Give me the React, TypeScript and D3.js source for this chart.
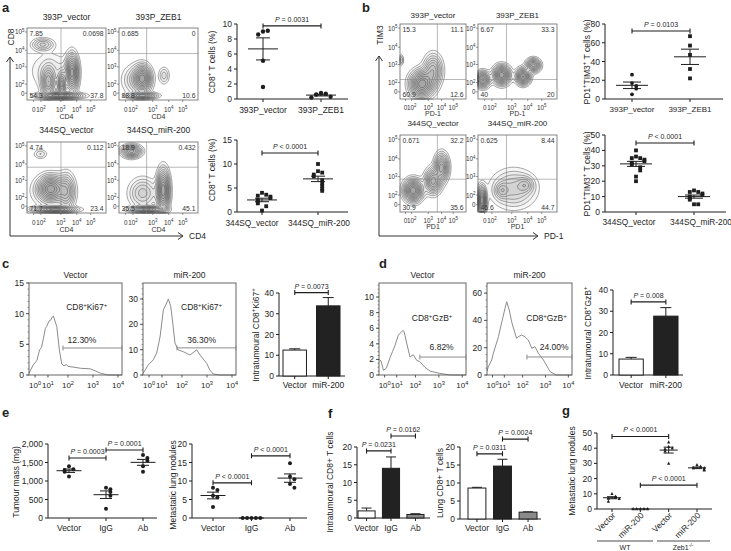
import React, { useMemo } from 'react';
import * as d3 from 'd3';

const FONT = '"Liberation Sans", Arial, Helvetica, sans-serif';
const INK = '#1e1e1e';

// ---------- panel a : CD8+ T cells (%) ----------
const aTopCats = ['393P_vector', '393P_ZEB1'];
const aTopVector = [9.0, 9.1, 8.6, 5.1, 1.6];
const aTopZeb1 = [0.8, 0.7, 0.6, 0.3, 0.2];
const aBotCats = ['344SQ_vector', '344SQ_miR-200'];
const aBotVector = [4.0, 3.6, 3.4, 3.2, 2.9, 2.5, 2.2, 1.8, 1.2, 0.3];
const aBotMir = [10.0, 8.5, 8.2, 7.8, 7.4, 6.6, 5.9, 5.4, 4.8, 4.4];

// ---------- panel b : PD1+TIM3+ T cells (%) ----------
const bTopCats = ['393P_vector', '393P_ZEB1'];
const bTopVector = [26, 17, 14, 11, 5];
const bTopZeb1 = [67, 57, 47, 32, 22];
const bBotCats = ['344SQ_vector', '344SQ_miR-200'];
const bBotVector = [40, 36, 35, 35, 34, 33, 32, 31, 29, 27, 23, 20];
const bBotMir = [14, 13, 13, 12, 11, 10, 9, 8, 5, 5];

// flow quadrant percentages [top-left, top-right, bottom-left, bottom-right]
const aTitles = ['393P_vector', '393P_ZEB1', '344SQ_vector', '344SQ_miR-200'];
const aQuad = [
  ['7.85', '0.0698', '54.3', '37.8'],
  ['0.685', '0', '88.8', '10.6'],
  ['4.74', '0.112', '71.7', '23.4'],
  ['18.9', '0.432', '35.5', '45.1'],
];
const bTitles = ['393P_vector', '393P_ZEB1', '344SQ_vector', '344SQ_miR-200'];
const bQuad = [
  ['15.3', '11.1', '60.9', '12.6'],
  ['6.67', '33.3', '40', '20'],
  ['0.671', '32.2', '30.9', '35.6'],
  ['0.625', '8.44', '46.6', '44.7'],
];

// cell populations seen in the contour plots: [cx, cy, sx, sy, weight] (fractions of plot box)
const aPops = [
  [[0.2, 0.23, 0.08, 0.05, 0.3], [0.27, 0.75, 0.05, 0.12, 0.6], [0.44, 0.78, 0.03, 0.1, 0.7], [0.57, 0.62, 0.045, 0.14, 1.0], [0.42, 0.94, 0.15, 0.025, 0.9], [0.3, 0.6, 0.16, 0.16, 0.12]],
  [[0.3, 0.7, 0.06, 0.1, 1.0], [0.22, 0.72, 0.1, 0.12, 0.3], [0.57, 0.66, 0.04, 0.07, 0.2], [0.3, 0.94, 0.1, 0.025, 0.8]],
  [[0.17, 0.17, 0.05, 0.04, 0.15], [0.3, 0.66, 0.09, 0.1, 1.0], [0.5, 0.7, 0.06, 0.14, 0.5], [0.35, 0.95, 0.15, 0.025, 0.9], [0.3, 0.7, 0.16, 0.14, 0.12]],
  [[0.16, 0.13, 0.07, 0.05, 0.7], [0.56, 0.68, 0.045, 0.16, 1.0], [0.3, 0.72, 0.1, 0.12, 0.3], [0.35, 0.95, 0.12, 0.025, 0.8]],
];
const bPops = [
  [[0.33, 0.8, 0.1, 0.1, 1.0], [0.5, 0.62, 0.08, 0.12, 0.5], [0.02, 0.48, 0.02, 0.04, 0.2]],
  [[0.06, 0.74, 0.05, 0.06, 0.8], [0.3, 0.68, 0.06, 0.07, 1.0], [0.57, 0.7, 0.05, 0.06, 0.9], [0.7, 0.55, 0.05, 0.05, 0.7]],
  [[0.2, 0.72, 0.08, 0.08, 1.0], [0.5, 0.6, 0.07, 0.09, 0.7], [0.63, 0.42, 0.06, 0.1, 0.7]],
  [[0.05, 0.85, 0.03, 0.1, 1.0], [0.45, 0.7, 0.16, 0.14, 0.3], [0.6, 0.65, 0.06, 0.06, 0.25], [0.3, 0.72, 0.05, 0.06, 0.25]],
];
const flowXTicks = ['0', '10^{2}', '10^{3}', '10^{4}', '10^{5}'];
const flowYTicks = ['10^{5}', '10^{4}', '10^{3}', '10^{2}', '0'];

// ---------- panels c, d : histograms [log10 decade, events] ----------
const histXTicks = ['10^{0}', '10^{1}', '10^{2}', '10^{3}', '10^{4}'];
const cVectorHist = [[-0.5, 0.3], [-0.15, 1.6], [0.15, 2.4], [0.35, 4.1], [0.5, 4.5], [0.65, 6.0], [0.8, 7.6], [0.9, 7.9], [1.05, 8.8], [1.15, 9.0], [1.22, 9.5], [1.27, 9.6], [1.35, 8.8], [1.44, 7.9], [1.57, 4.1], [1.69, 1.8], [1.8, 1.5], [1.93, 1.7], [2.0, 1.4], [2.2, 1.3], [2.5, 1.1], [2.9, 1.0], [3.3, 0.3], [3.6, 0], [4.2, 0]];
const cMirHist = [[-0.45, 0.7], [-0.06, 4], [0.33, 6], [0.59, 8.7], [0.85, 15], [1.07, 25.7], [1.23, 28.4], [1.32, 30], [1.44, 27], [1.54, 20.5], [1.65, 12.6], [1.81, 9.9], [2.05, 9.2], [2.32, 7.9], [2.59, 9.9], [2.72, 7.9], [2.88, 5.9], [2.99, 4.6], [3.11, 2], [3.25, 0.4], [3.5, 0], [4.2, 0]];
const dVectorHist = [[-0.45, 2.0], [-0.3, 1.8], [-0.1, 0.6], [0.15, 0.9], [0.44, 2.2], [0.65, 3.0], [0.86, 3.8], [1.08, 5.1], [1.27, 5.6], [1.35, 5.7], [1.4, 5.5], [1.53, 4.1], [1.71, 2.3], [1.88, 2.6], [2.05, 1.9], [2.19, 1.7], [2.4, 1.0], [2.62, 0.5], [3.05, 0.2], [3.5, 0], [4.2, 0]];
const dMirHist = [[-0.45, 3], [-0.36, 6], [-0.07, 11], [0.07, 15.9], [0.5, 28], [0.79, 39], [1.04, 48.9], [1.13, 53.7], [1.27, 47.6], [1.4, 39], [1.53, 33], [1.67, 26.9], [1.76, 28], [1.95, 29.3], [2.1, 28], [2.25, 25.6], [2.4, 19.6], [2.54, 20.7], [2.69, 15.9], [2.91, 11], [3.2, 2.5], [3.46, 0], [4.2, 0]];

// ---------- bar charts ----------
const cdCats = ['Vector', 'miR-200'];
const cBars = [12.5, 33.8];
const cErr = [0.6, 4.0];
const dBars = [7.5, 27.7];
const dErr = [0.8, 4.0];
const fCats = ['Vector', 'IgG', 'Ab'];
const fIntraBars = [2.0, 14.0, 1.0];
const fIntraErr = [0.8, 3.2, 0.2];
const fLungBars = [8.6, 14.7, 1.9];
const fLungErr = [0.2, 1.9, 0.1];

// ---------- panel e ----------
const eCats = ['Vector', 'IgG', 'Ab'];
const eMassVector = [1400, 1320, 1300, 1250, 1120];
const eMassIgG = [820, 780, 700, 600, 250];
const eMassAb = [1700, 1620, 1550, 1400, 1250];
const eNodVector = [8.2, 7.6, 6.0, 5.6, 3.0];
const eNodIgG = [0, 0, 0, 0, 0];
const eNodAb = [14.8, 11.2, 10.5, 9.2, 8.2];

// ---------- panel g ----------
const gCats = ['Vector', 'miR-200', 'Vector', 'miR-200'];
const gGroups = ['WT', 'Zeb1^{-/-}'];
const gWtVector = [10, 8.2, 7.5, 7.0, 6.8, 5.0];
const gWtMir = [0, 0, 0, 0, 0];
const gKoVector = [44, 41, 40, 39.5, 38, 30];
const gKoMir = [29, 28, 27, 27, 26, 25.5];

// ================= helpers =================
function Rich({ text, fontSize, ...rest }) {
  const parts = text.split(/(\^\{[^}]*\}|\*\{[^}]*\})/).filter(Boolean);
  const shift = fontSize * 0.38;
  let raised = false;
  return (
    <text fontSize={fontSize} {...rest}>
      {parts.map((p, i) => {
        if (p.startsWith('^{')) {
          const dy = raised ? 0 : -shift;
          raised = true;
          return <tspan key={i} dy={dy} fontSize={fontSize * 0.7}>{p.slice(2, -1)}</tspan>;
        }
        const dy = raised ? shift : 0;
        raised = false;
        if (p.startsWith('*{')) return <tspan key={i} dy={dy} fontStyle="italic">{p.slice(2, -1)}</tspan>;
        return <tspan key={i} dy={dy}>{p}</tspan>;
      })}
    </text>
  );
}

const sem = (v) => (v.length > 1 ? (d3.deviation(v) || 0) / Math.sqrt(v.length) : 0);

// spread overlapping points sideways
function spread(vals, y, gap) {
  const placed = [];
  return vals.map((v) => {
    const py = y(v);
    const n = placed.filter((q) => Math.abs(q - py) < gap).length;
    placed.push(py);
    if (n === 0) return 0;
    return (n % 2 ? 1 : -1) * Math.ceil(n / 2) * gap;
  });
}

function Marker({ kind, x, y, r }) {
  if (kind === 'square') return <rect x={x - r} y={y - r} width={2 * r} height={2 * r} fill={INK} />;
  if (kind === 'tri') return <path d={`M${x},${y - r * 1.2}L${x + r},${y + r * 0.8}L${x - r},${y + r * 0.8}Z`} fill={INK} />;
  return <circle cx={x} cy={y} r={r} fill={INK} />;
}

function PBracket({ x1, x2, y, text, size = 7 }) {
  return (
    <g>
      <path d={`M${x1},${y - 2.5}V${y + 2.5}M${x1},${y}H${x2}M${x2},${y - 2.5}V${y + 2.5}`} stroke={INK} strokeWidth={1.1} fill="none" />
      <Rich x={(x1 + x2) / 2} y={y - 4} textAnchor="middle" fontSize={size} text={text} />
    </g>
  );
}

function YAxis({ x, scale, ticks, fmt, size = 8.5 }) {
  const [d0, d1] = scale.domain();
  return (
    <g>
      <line x1={x} x2={x} y1={scale(d0)} y2={scale(d1)} stroke={INK} strokeWidth={1} />
      {ticks.map((t) => (
        <g key={t}>
          <line x1={x - 3} x2={x} y1={scale(t)} y2={scale(t)} stroke={INK} strokeWidth={1} />
          <text x={x - 5} y={scale(t) + 3} textAnchor="end" fontSize={size}>{fmt ? fmt(t) : t}</text>
        </g>
      ))}
    </g>
  );
}

function Scatter(p) {
  const y = d3.scaleLinear().domain(p.domain).range([p.yBottom, p.yTop]);
  const x = d3.scalePoint().domain(p.cats.map((_, i) => String(i))).range(p.catRange);
  const ls = p.labelSize || 8.5;
  return (
    <g>
      <YAxis x={p.axisX} scale={y} ticks={p.ticks} fmt={p.fmt} size={p.tickSize || 8.5} />
      <line x1={p.axisX} x2={p.axisEnd} y1={p.yBottom} y2={p.yBottom} stroke={INK} strokeWidth={1} />
      {p.cats.map((c, i) => {
        const cx = x(String(i));
        const lx = cx + (p.labelDx ? p.labelDx[i] : 0);
        return (
          <g key={i}>
            <line x1={cx} x2={cx} y1={p.yBottom} y2={p.yBottom + 3} stroke={INK} />
            {p.rotateLabels ? (
              <Rich text={c} fontSize={ls} textAnchor="end" transform={`translate(${lx + 4},${p.labelY}) rotate(-45)`} />
            ) : (
              <Rich text={c} fontSize={ls} x={lx} y={p.labelY} textAnchor="middle" />
            )}
          </g>
        );
      })}
      {p.groups.map((vals, gi) => {
        const cx = x(String(gi));
        const r = p.dot || 2.1;
        const dxs = spread(vals, y, 2 * r + 0.4);
        const m = d3.mean(vals);
        const s = sem(vals);
        const kind = Array.isArray(p.marker) ? p.marker[gi] : p.marker;
        return (
          <g key={gi}>
            {vals.map((v, i) => <Marker key={i} kind={kind} x={cx + dxs[i]} y={y(v)} r={r} />)}
            <g stroke={INK} strokeWidth={1}>
              <line x1={cx - p.meanHalf} x2={cx + p.meanHalf} y1={y(m)} y2={y(m)} />
              {s > 0 && (
                <>
                  <line x1={cx} x2={cx} y1={y(m - s)} y2={y(m + s)} />
                  <line x1={cx - p.capHalf} x2={cx + p.capHalf} y1={y(m - s)} y2={y(m - s)} />
                  <line x1={cx - p.capHalf} x2={cx + p.capHalf} y1={y(m + s)} y2={y(m + s)} />
                </>
              )}
            </g>
          </g>
        );
      })}
      {p.brackets.map((b, i) => (
        <PBracket key={i} x1={x(String(b.from))} x2={x(String(b.to))} y={y(b.level)} text={b.text} />
      ))}
      <Rich text={p.title} fontSize={p.titleSize || 8.5} textAnchor="middle" transform={`translate(${p.titleX},${p.titleY}) rotate(-90)`} />
    </g>
  );
}

function Bars(p) {
  const y = d3.scaleLinear().domain(p.domain).range([p.yBottom, p.yTop]);
  const x = d3.scaleBand().domain(p.cats).range(p.band).paddingInner(0.3);
  const bw = x.bandwidth();
  return (
    <g>
      <YAxis x={p.axisX} scale={y} ticks={p.ticks} />
      <line x1={p.axisX} x2={p.axisEnd} y1={p.yBottom} y2={p.yBottom} stroke={INK} strokeWidth={1} />
      {p.cats.map((c, i) => {
        const x0 = x(c);
        const cx = x0 + bw / 2;
        const top = y(p.values[i]);
        const et = y(p.values[i] + p.errs[i]);
        return (
          <g key={c}>
            <line x1={cx} x2={cx} y1={top} y2={et} stroke={INK} strokeWidth={1} />
            <line x1={cx - p.capHalf} x2={cx + p.capHalf} y1={et} y2={et} stroke={INK} strokeWidth={1} />
            <rect x={x0} y={top} width={bw} height={p.yBottom - top} fill={p.fills[i]} stroke={INK} strokeWidth={1} />
            <line x1={cx} x2={cx} y1={p.yBottom} y2={p.yBottom + 3} stroke={INK} />
            <text x={cx} y={p.labelY} textAnchor="middle" fontSize={8.5}>{c}</text>
          </g>
        );
      })}
      {p.brackets.map((b, i) => (
        <PBracket key={i} x1={x(p.cats[b.from]) + bw / 2} x2={x(p.cats[b.to]) + bw / 2} y={y(b.level)} text={b.text} />
      ))}
      <Rich text={p.title} fontSize={8.5} textAnchor="middle" transform={`translate(${p.titleX},${p.titleY}) rotate(-90)`} />
    </g>
  );
}

const HIST_F = [0.065, 0.204, 0.419, 0.688, 0.957];

function Histogram(p) {
  const { x, y, w, h } = p.box;
  const sx = d3.scaleLinear().domain([0, 1, 2, 3, 4]).range(HIST_F.map((f) => x + f * w));
  const sy = d3.scaleLinear().domain([0, p.yMax]).range([y + h, y]);
  const line = d3.line().x((d) => Math.max(x, Math.min(x + w, sx(d[0])))).y((d) => sy(d[1]));
  const minors = d3.range(0, p.yMax + 1e-9, p.minor);
  const gx = sx(p.gate[0]);
  const gy = sy(p.gate[1]);
  const grey = '#8c8c8c';
  return (
    <g>
      <text x={x + w / 2} y={y - 5} textAnchor="middle" fontSize={8.5}>{p.title}</text>
      <path d={line(p.data)} fill="none" stroke={grey} strokeWidth={1} />
      <rect x={x} y={y} width={w} height={h} fill="none" stroke="#555" strokeWidth={0.9} />
      {minors.map((t, i) => <line key={i} x1={x - 1.5} x2={x} y1={sy(t)} y2={sy(t)} stroke="#555" strokeWidth={0.6} />)}
      {p.ticks.map((t) => (
        <g key={t}>
          <line x1={x - 3} x2={x} y1={sy(t)} y2={sy(t)} stroke="#444" strokeWidth={0.9} />
          <text x={x - 5} y={sy(t) + 3} textAnchor="end" fontSize={8.5}>{t}</text>
        </g>
      ))}
      {histXTicks.map((t, i) => (
        <g key={t}>
          <line x1={sx(i)} x2={sx(i)} y1={y + h} y2={y + h + 2.5} stroke="#444" strokeWidth={0.9} />
          <Rich text={t} x={sx(i)} y={y + h + 13} textAnchor="middle" fontSize={8} />
        </g>
      ))}
      <path d={`M${gx},${gy - 2.5}V${gy + 2.5}M${gx},${gy}H${x + w}M${x + w},${gy - 2.5}V${gy + 2.5}`} stroke={grey} strokeWidth={1} fill="none" />
      <Rich text={p.pct} x={x + p.pctF * w} y={p.pctY} textAnchor="middle" fontSize={8.5} />
      <Rich text={p.label} x={x + p.labelF * w} y={p.labelY} textAnchor="middle" fontSize={8.5} />
    </g>
  );
}

const FLOW_XF = [0.084, 0.176, 0.428, 0.63, 0.807];
const FLOW_YF = [0.055, 0.31, 0.54, 0.78, 0.905];
const LEVELS = [0.04, 0.08, 0.13, 0.19, 0.26, 0.34, 0.43, 0.53, 0.64, 0.76, 0.88];

function FlowPlot(p) {
  const { x, y, w, h } = p.box;
  const paths = useMemo(() => {
    const nx = 64;
    const ny = 64;
    const grid = new Array(nx * ny).fill(0);
    for (let j = 0; j < ny; j++) {
      for (let i = 0; i < nx; i++) {
        const fx = (i + 0.5) / nx;
        const fy = (j + 0.5) / ny;
        let v = 0;
        for (const [cx, cy, sx, sy, wt] of p.pops) {
          v += wt * Math.exp(-((fx - cx) ** 2) / (2 * sx * sx) - ((fy - cy) ** 2) / (2 * sy * sy));
        }
        grid[j * nx + i] = v;
      }
    }
    const max = d3.max(grid);
    const sets = d3.contours().size([nx, ny]).thresholds(LEVELS.map((l) => l * max))(grid);
    const proj = d3.geoTransform({
      point(px, py) {
        this.stream.point(x + (px / nx) * w, y + (py / ny) * h);
      },
    });
    const gp = d3.geoPath(proj);
    return sets.map((s) => gp(s) || '');
  }, [x, y, w, h, p.pops]);
  const [tl, tr, bl, br] = p.quad;
  const qs = 6.8;
  return (
    <g>
      <text x={x + w / 2} y={p.titleY} textAnchor="middle" fontSize={p.titleSize || 8.5}>{p.title}</text>
      <g fill="rgba(0,0,0,0.035)" stroke="#3a3a3a" strokeWidth={0.45}>
        {paths.map((d, i) => <path key={i} d={d} />)}
      </g>
      <rect x={x} y={y} width={w} height={h} fill="none" stroke="#666" strokeWidth={0.8} />
      <line x1={x + p.vf * w} x2={x + p.vf * w} y1={y} y2={y + h} stroke="#888" strokeWidth={0.6} />
      <line x1={x} x2={x + w} y1={y + p.hf * h} y2={y + p.hf * h} stroke="#888" strokeWidth={0.6} />
      <text x={x + 2.5} y={y + 7.5} fontSize={qs} fill="#333">{tl}</text>
      <text x={x + w - 2.5} y={y + 7.5} fontSize={qs} textAnchor="end" fill="#333">{tr}</text>
      <text x={x + 2.5} y={y + h - 2} fontSize={qs} fill="#333">{bl}</text>
      <text x={x + w - 2.5} y={y + h - 2} fontSize={qs} textAnchor="end" fill="#333">{br}</text>
      {FLOW_YF.map((f, i) => (
        <g key={i}>
          <line x1={x - 2} x2={x} y1={y + f * h} y2={y + f * h} stroke="#666" strokeWidth={0.7} />
          <Rich text={flowYTicks[i]} x={x - 2.5} y={y + f * h + 2.5} textAnchor="end" fontSize={6.3} fill="#333" />
        </g>
      ))}
      {FLOW_XF.map((f, i) => (
        <g key={i}>
          <line x1={x + f * w} x2={x + f * w} y1={y + h} y2={y + h + 2} stroke="#666" strokeWidth={0.7} />
          <Rich text={flowXTicks[i]} x={x + f * w} y={y + h + p.tickDy} textAnchor="middle" fontSize={6.3} fill="#333" />
        </g>
      ))}
      <text x={x + w / 2} y={y + h + p.labelDy} textAnchor="middle" fontSize={7} fill="#333">{p.xLabel}</text>
    </g>
  );
}

function AxisArrows({ x0, y0, topY, rightX, vLabel, vLabelY, hLabel }) {
  return (
    <g stroke="#333" strokeWidth={1} fill="none">
      <path d={`M${x0},${topY}V${y0}H${rightX}`} />
      <path d={`M${x0 - 3.5},${topY + 5}L${x0},${topY}L${x0 + 3.5},${topY + 5}`} />
      <path d={`M${rightX - 5},${y0 - 3.5}L${rightX},${y0}L${rightX - 5},${y0 + 3.5}`} />
      <text stroke="none" fill={INK} fontSize={8.5} textAnchor="middle" transform={`translate(${x0 + 3.5},${vLabelY}) rotate(-90)`}>{vLabel}</text>
      <text stroke="none" fill={INK} fontSize={8.5} x={rightX + 6} y={y0 + 3.2}>{hLabel}</text>
    </g>
  );
}

const aBoxes = [
  { x: 27, y: 28, w: 79, h: 72 },
  { x: 119, y: 28, w: 79, h: 72 },
  { x: 27, y: 142, w: 79, h: 71 },
  { x: 119, y: 142, w: 79, h: 71 },
];
const bBoxes = [
  { x: 400, y: 24, w: 66, h: 75 },
  { x: 478, y: 24, w: 79, h: 75 },
  { x: 400, y: 135, w: 66, h: 77 },
  { x: 478, y: 135, w: 79, h: 77 },
];

export default function App() {
  const letter = (t, x, y) => (
    <text x={x} y={y} fontSize={13} fontWeight="bold">{t}</text>
  );
  return (
    <svg width={731} height={551} viewBox="0 0 731 551" style={{ position: 'absolute', left: 0, top: 0, display: 'block' }} fontFamily={FONT} fill={INK}>
      <rect width={731} height={551} fill="#fff" />
      {letter('a', 2, 12)}
      {letter('b', 362, 12)}
      {letter('c', 2, 268)}
      {letter('d', 379, 268)}
      {letter('e', 2, 417)}
      {letter('f', 328, 418)}
      {letter('g', 562, 415)}

      {/* a: flow plots */}
      {aBoxes.map((b, i) => (
        <FlowPlot key={i} box={b} title={aTitles[i]} titleY={i < 2 ? 20 : 133} xLabel="CD4" quad={aQuad[i]}
          vf={i % 2 ? 0.35 : 0.43} hf={0.355} pops={aPops[i]} tickDy={11.5} labelDy={19} />
      ))}
      <AxisArrows x0={10} y0={236} topY={57} rightX={183} vLabel="CD8" vLabelY={37} hLabel="CD4" />

      <Scatter axisX={237} axisEnd={348} yTop={24} yBottom={99} domain={[0, 10]} ticks={[0, 2, 4, 6, 8, 10]}
        cats={aTopCats} catRange={[263, 321]} groups={[aTopVector, aTopZeb1]} labelY={113}
        title="CD8^{+} T cells (%)" titleX={214.5} titleY={62} marker="circle" dot={2.2} meanHalf={15} capHalf={7}
        brackets={[{ from: 0, to: 1, level: 9.75, text: '*{P} = 0.0031' }]} />
      <Scatter axisX={237} axisEnd={348} yTop={140} yBottom={212} domain={[0, 15]} ticks={[0, 5, 10, 15]}
        cats={aBotCats} catRange={[262, 318]} labelDx={[-10, 1]} groups={[aBotVector, aBotMir]} labelY={225.5} labelSize={8.3}
        title="CD8^{+} T cells (%)" titleX={214.5} titleY={170} marker="square" dot={1.9} meanHalf={15} capHalf={7}
        brackets={[{ from: 0, to: 1, level: 12.3, text: '*{P} < 0.0001' }]} />

      {/* b: flow plots */}
      {bBoxes.map((b, i) => (
        <FlowPlot key={i} box={b} title={bTitles[i]} titleY={i < 2 ? 18 : 126} titleSize={8} xLabel={i < 2 ? 'PD-1' : 'PD1'} quad={bQuad[i]}
          vf={i % 2 ? 0.36 : 0.566} hf={i < 2 ? 0.74 : 0.574} pops={bPops[i]} tickDy={10.5} labelDy={17} />
      ))}
      <AxisArrows x0={379} y0={236} topY={56} rightX={538} vLabel="TIM3" vLabelY={35} hLabel="PD-1" />

      <Scatter axisX={605} axisEnd={723} yTop={24} yBottom={99} domain={[0, 80]} ticks={[0, 20, 40, 60, 80]}
        cats={bTopCats} catRange={[632, 690]} groups={[bTopVector, bTopZeb1]} labelY={112} labelSize={8}
        title="PD1^{+}TIM3^{+} T cells (%)" titleX={589.5} titleY={62} marker={['circle', 'square']} dot={1.9} meanHalf={16} capHalf={9}
        brackets={[{ from: 0, to: 1, level: 72.5, text: '*{P} = 0.0103' }]} />
      <Scatter axisX={605} axisEnd={726} yTop={135} yBottom={212} domain={[0, 50]} ticks={[0, 10, 20, 30, 40, 50]}
        cats={bBotCats} catRange={[636, 694]} labelDx={[-7, 7]} groups={[bBotVector, bBotMir]} labelY={225} labelSize={8.3}
        title="PD1^{+}TIM3^{+} T cells (%)" titleX={589.5} titleY={174} marker="square" dot={1.9} meanHalf={16} capHalf={9}
        brackets={[{ from: 0, to: 1, level: 44.8, text: '*{P} < 0.0001' }]} />

      {/* c */}
      <Histogram box={{ x: 29, y: 283, w: 93, h: 92 }} yMax={15} ticks={[0, 5, 10, 15]} minor={1} data={cVectorHist}
        title="Vector" label="CD8^{+}Ki67^{+}" labelF={0.62} labelY={310} pct="12.30%" pctF={0.57} pctY={343} gate={[1.75, 4.4]} />
      <Histogram box={{ x: 143, y: 283, w: 93, h: 92 }} yMax={36.3} ticks={[0, 10, 20, 30]} minor={2} data={cMirHist}
        title="miR-200" label="CD8^{+}Ki67^{+}" labelF={0.63} labelY={310} pct="36.30%" pctF={0.63} pctY={343} gate={[1.75, 10.7]} />
      <Bars axisX={279} axisEnd={345} yTop={293} yBottom={376} domain={[0, 40]} ticks={[0, 10, 20, 30, 40]}
        cats={cdCats} values={cBars} errs={cErr} fills={['#fff', '#222']} band={[283, 340]} labelY={388} capHalf={5.5}
        title="Intratumoural CD8^{+}Ki67^{+}" titleX={258.5} titleY={335}
        brackets={[{ from: 0, to: 1, level: 40.2, text: '*{P} = 0.0073' }]} />

      {/* d */}
      <Histogram box={{ x: 379, y: 283, w: 87, h: 92 }} yMax={11.8} ticks={[0, 2, 4, 6, 8, 10]} minor={0.5} data={dVectorHist}
        title="Vector" label="CD8^{+}GzB^{+}" labelF={0.61} labelY={321} pct="6.82%" pctF={0.72} pctY={350} gate={[2.19, 2.3]} />
      <Histogram box={{ x: 487, y: 283, w: 85, h: 92 }} yMax={67.4} ticks={[0, 20, 40, 60]} minor={5} data={dMirHist}
        title="miR-200" label="CD8^{+}GzB^{+}" labelF={0.7} labelY={321} pct="24.00%" pctF={0.79} pctY={350} gate={[2.19, 13.2]} />
      <Bars axisX={613} axisEnd={683} yTop={290} yBottom={375} domain={[0, 40]} ticks={[0, 10, 20, 30, 40]}
        cats={cdCats} values={dBars} errs={dErr} fills={['#fff', '#222']} band={[619, 678]} labelY={388} capHalf={5.5}
        title="Intratumoural CD8^{+}GzB^{+}" titleX={590.5} titleY={333}
        brackets={[{ from: 0, to: 1, level: 34.4, text: '*{P} = 0.008' }]} />

      {/* e */}
      <Scatter axisX={48} axisEnd={157} yTop={444} yBottom={518} domain={[0, 2000]} ticks={[0, 500, 1000, 1500, 2000]} fmt={d3.format(',')}
        cats={eCats} catRange={[69, 143]} groups={[eMassVector, eMassIgG, eMassAb]} labelY={531}
        title="Tumour mass (mg)" titleX={18.5} titleY={482} marker="circle" dot={2} meanHalf={12.5} capHalf={6}
        brackets={[{ from: 0, to: 1, level: 1622, text: '*{P} = 0.0003' }, { from: 1, to: 2, level: 1838, text: '*{P} = 0.0001' }]} />
      <Scatter axisX={192} axisEnd={307} yTop={444} yBottom={518} domain={[0, 20]} ticks={[0, 5, 10, 15, 20]}
        cats={eCats} catRange={[213, 290]} groups={[eNodVector, eNodIgG, eNodAb]} labelY={531}
        title="Metastatic lung nodules" titleX={175.5} titleY={485} marker="circle" dot={2} meanHalf={12.5} capHalf={6}
        brackets={[{ from: 0, to: 1, level: 9.5, text: '*{P} < 0.0001' }, { from: 1, to: 2, level: 16.8, text: '*{P} < 0.0001' }]} />

      {/* f */}
      <Bars axisX={357} axisEnd={430} yTop={447} yBottom={518} domain={[0, 20]} ticks={[0, 5, 10, 15, 20]}
        cats={fCats} values={fIntraBars} errs={fIntraErr} fills={['#fff', '#222', '#8a8a8a']} band={[358, 424]} labelY={531} capHalf={5}
        title="Intratumoural CD8+ T cells" titleX={332.5} titleY={482}
        brackets={[{ from: 0, to: 1, level: 18.9, text: '*{P} = 0.0231' }, { from: 1, to: 2, level: 23.1, text: '*{P} = 0.0162' }]} />
      <Bars axisX={460} axisEnd={541} yTop={447} yBottom={519} domain={[0, 20]} ticks={[0, 5, 10, 15, 20]}
        cats={fCats} values={fLungBars} errs={fLungErr} fills={['#fff', '#222', '#8a8a8a']} band={[468, 537]} labelY={531} capHalf={5}
        title="Lung CD8+ T cells" titleX={442.5} titleY={483}
        brackets={[{ from: 0, to: 1, level: 18.1, text: '*{P} = 0.0311' }, { from: 1, to: 2, level: 22.2, text: '*{P} = 0.0024' }]} />

      {/* g */}
      <Scatter axisX={597} axisEnd={712} yTop={433} yBottom={509} domain={[0, 50]} ticks={[0, 10, 20, 30, 40, 50]}
        cats={gCats} catRange={[612, 697]} groups={[gWtVector, gWtMir, gKoVector, gKoMir]} labelY={516} rotateLabels
        title="Metastatic lung nodules" titleX={574.5} titleY={471} marker="tri" dot={1.6} meanHalf={9} capHalf={5}
        brackets={[{ from: 0, to: 2, level: 47.7, text: '*{P} < 0.0001' }, { from: 1, to: 3, level: 15.7, text: '*{P} < 0.0001' }]} />
      <line x1={597} x2={653} y1={541} y2={541} stroke={INK} strokeWidth={0.8} />
      <line x1={657} x2={710} y1={541} y2={541} stroke={INK} strokeWidth={0.8} />
      <Rich text={gGroups[0]} x={625} y={549.5} textAnchor="middle" fontSize={7} />
      <Rich text={gGroups[1]} x={683} y={549.5} textAnchor="middle" fontSize={7} />
    </svg>
  );
}
